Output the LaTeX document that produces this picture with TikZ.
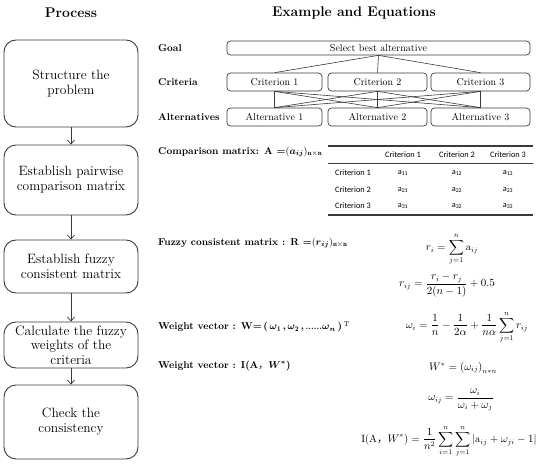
\documentclass[tikz,border=0pt]{standalone}
\usepackage{amsmath,amssymb}
\usepackage{fontspec}
\newfontfamily\tabfont{Carlito}
\newfontfamily\cjk{Noto Sans CJK SC}
\usetikzlibrary{arrows.meta}
\definecolor{lc}{HTML}{3A3A3A}
\newcommand{\bsm}[1]{\boldsymbol{#1}}
\tikzset{
  proc/.style={draw=lc, line width=0.9pt, rounded corners=12pt, minimum width=134pt, align=center, inner sep=0pt, font=\fontsize{13.5}{15}\selectfont},
  hbox/.style={draw=lc, line width=0.7pt, rounded corners=3.5pt, inner sep=0pt, font=\fontsize{10}{11}\selectfont},
  lbl/.style={anchor=west, inner sep=0pt, font=\fontsize{10}{12}\selectfont\bfseries},
  head/.style={inner sep=0pt, font=\fontsize{14}{16}\selectfont\bfseries},
  arr/.style={draw=lc, line width=0.7pt, -{Straight Barb[length=4pt,width=7pt]}},
  link/.style={draw=lc, line width=0.6pt},
  eq/.style={inner sep=0pt, font=\fontsize{10.5}{12}\selectfont},
  tb/.style={inner sep=0pt, font=\tabfont\fontsize{8.3}{9}\selectfont},
}
\begin{document}
\begin{tikzpicture}[x=1pt,y=-1pt]
\useasboundingbox (0,0) rectangle (550,474);
% headings
\node[head] (hp) at (71,13) {Process};
\node[head] (he) at (354,13) {Example and Equations};
% process boxes
\node[proc, minimum height=87pt] (p1) at (71,83.5) {Structure the\\problem};
\node[proc, minimum height=70pt] (p2) at (71,180) {Establish pairwise\\comparison matrix};
\node[proc, minimum height=53pt] (p3) at (71,266.5) {Establish fuzzy\\consistent matrix};
\node[proc, minimum height=46pt, font=\fontsize{13.5}{14.5}\selectfont] (p4) at (71,345) {Calculate the fuzzy\\weights of the\\criteria};
\node[proc, minimum height=74pt] (p5) at (71,422) {Check the\\consistency};
\draw[arr] (p1) -- (p2);
\draw[arr] (p2) -- (p3);
\draw[arr] (p3) -- (p4);
\draw[arr] (p4) -- (p5);
% hierarchy
\node[lbl] (lg) at (158,48) {Goal};
\node[lbl] (lcr) at (158,82) {Criteria};
\node[lbl] (la) at (158,117) {Alternatives};
\node[hbox, minimum width=303pt, minimum height=14pt] (goal) at (378.5,48) {Select best alternative};
\node[hbox, minimum width=95pt, minimum height=18pt] (c1) at (274.5,82) {Criterion 1};
\node[hbox, minimum width=99pt, minimum height=18pt] (c2) at (377.5,82) {Criterion 2};
\node[hbox, minimum width=99pt, minimum height=18pt] (c3) at (480.5,82) {Criterion 3};
\node[hbox, minimum width=95pt, minimum height=18pt] (a1) at (274.5,117) {Alternative 1};
\node[hbox, minimum width=99pt, minimum height=18pt] (a2) at (377.5,117) {Alternative 2};
\node[hbox, minimum width=99pt, minimum height=18pt] (a3) at (480.5,117) {Alternative 3};
\foreach \ci in {c1,c2,c3} {
  \draw[link] (goal.south) -- (\ci.north);
  \foreach \ai in {a1,a2,a3} { \draw[link] (\ci.south) -- (\ai.north); }
}
% comparison matrix
\node[lbl] (lcm) at (158,152) {Comparison matrix: A =$(\bsm{a}_{\bsm{ij}})_{\mathbf{n}\times\mathbf{n}}$};
\draw[lc, line width=1.2pt] (328,146) -- (533,146);
\draw[lc, line width=0.7pt] (328,163.5) -- (533,163.5);
\draw[lc, line width=1.2pt] (328,215) -- (533,215);
\node[tb] (h1) at (403,155) {Criterion 1};
\node[tb] (h2) at (457,155) {Criterion 2};
\node[tb] (h3) at (508,155) {Criterion 3};
\foreach \r/\y in {1/173,2/190,3/206} {
  \node[tb] (r\r) at (353,\y) {Criterion \r};
  \node[tb] (v\r1) at (403,\y) {a\textsubscript{\r1}};
  \node[tb] (v\r2) at (457,\y) {a\textsubscript{\r2}};
  \node[tb] (v\r3) at (508,\y) {a\textsubscript{\r3}};
}
% fuzzy consistent matrix
\node[lbl] (lfm) at (158,243) {Fuzzy consistent matrix : R =$(\bsm{r}_{\bsm{ij}})_{\mathbf{n}\times\mathbf{n}}$};
\node[eq] (e1) at (452,249) {$\displaystyle r_i=\sum_{j=1}^{n}\mathrm{a}_{ij}$};
\node[eq] (e2) at (447,285) {$\displaystyle r_{ij}=\frac{r_i-r_j}{2(n-1)}+0.5$};
% weight vector
\node[lbl, font=\fontsize{10}{12}\selectfont\bfseries] (lw) at (158,327) {Weight vector : W=\,(\,$\bsm{\omega}_{\mathbf{1}}$\,,\,$\bsm{\omega}_{\mathbf{2}}$\,,\,{\fontsize{8}{10}\selectfont......}$\bsm{\omega}_{\bsm{n}}$\,)\,$^{\mathrm{T}}$};
\node[eq] (e3) at (467,327) {$\displaystyle \omega_i=\frac{1}{n}-\frac{1}{2\alpha}+\frac{1}{n\alpha}\sum_{j=1}^{n}r_{ij}$};
% consistency
\node[lbl] (li) at (158,366) {Weight vector : I(A{\cjk\mdseries ，}$\bsm{W}^{\bsm{*}}$)};
\node[eq] (e4) at (463,368) {$W^{*}=\left(\omega_{ij}\right)_{n*n}$};
\node[eq] (e5) at (461,400) {$\displaystyle \omega_{ij}=\frac{\omega_i}{\omega_i+\omega_j}$};
\node[eq] (e6) at (449,441) {I(A{\cjk ，}$\displaystyle W^{*})=\frac{1}{n^2}\sum_{i=1}^{n}\sum_{j=1}^{n}\left|\mathrm{a}_{ij}+\omega_{ji}-1\right|$};
\end{tikzpicture}
\end{document}
